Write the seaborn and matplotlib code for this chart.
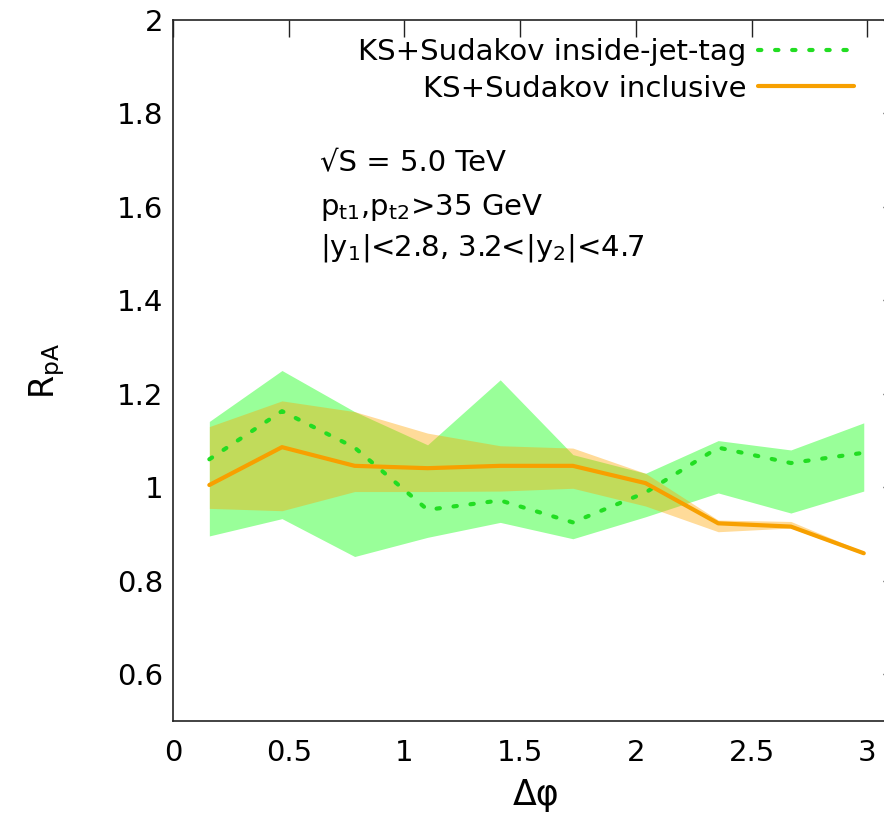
import numpy as np
import pandas as pd
import matplotlib
matplotlib.use("Agg")
import matplotlib.pyplot as plt
import seaborn as sns

# bin centres in delta phi (10 bins over [0, pi])
dphi = [0.157, 0.471, 0.785, 1.100, 1.414, 1.728, 2.042, 2.356, 2.670, 2.985]

# KS+Sudakov inside-jet-tag
tag_mid = [1.06, 1.163, 1.085, 0.952, 0.972, 0.925, 0.989, 1.085, 1.052, 1.074]
tag_lo = [0.896, 0.933, 0.852, 0.893, 0.925, 0.890, 0.937, 0.988, 0.945, 0.992]
tag_hi = [1.141, 1.250, 1.162, 1.091, 1.230, 1.070, 1.030, 1.100, 1.080, 1.138]

# KS+Sudakov inclusive
inc_mid = [1.005, 1.086, 1.046, 1.041, 1.046, 1.046, 1.009, 0.923, 0.916, 0.859]
inc_lo = [0.955, 0.950, 0.991, 0.991, 0.992, 0.998, 0.960, 0.905, 0.913, 0.856]
inc_hi = [1.130, 1.185, 1.162, 1.116, 1.089, 1.084, 1.030, 0.930, 0.927, 0.862]

labels = ["KS+Sudakov inside-jet-tag", "KS+Sudakov inclusive"]

df = pd.DataFrame({
    "dphi": dphi * 2,
    "R": tag_mid + inc_mid,
    "curve": [labels[0]] * len(dphi) + [labels[1]] * len(dphi),
})

sns.set_theme(style="white")
plt.rcParams["font.family"] = ["DejaVu Sans"]
plt.rcParams["mathtext.fontset"] = "dejavusans"
plt.rcParams["text.color"] = "black"
plt.rcParams["axes.labelcolor"] = "black"

green = "#22dd22"
orange = "#f7a000"

fig = plt.figure(figsize=(8.84, 8.26), dpi=100)
ax = fig.add_axes([0.1957, 0.1271, 0.8224, 0.8487])

ax.fill_between(dphi, tag_lo, tag_hi, color="#00ff00", alpha=0.4, lw=0)
ax.fill_between(dphi, inc_lo, inc_hi, color="#ffa500", alpha=0.4, lw=0)

sns.lineplot(data=df, x="dphi", y="R", hue="curve", style="curve",
             palette={labels[0]: green, labels[1]: orange},
             dashes={labels[0]: (0.8, 3.3), labels[1]: ""},
             linewidth=3, ax=ax, legend=False)
for line in ax.get_lines():
    line.set_dash_capstyle("round")
    line.set_solid_capstyle("round")

h1, = ax.plot([], [], color=green, lw=3, linestyle=(0, (0.8, 3.3)),
              dash_capstyle="round")
h2, = ax.plot([], [], color=orange, lw=3)
ax.legend([h1, h2], labels, loc="upper right", bbox_to_anchor=(0.973, 1.012),
          markerfirst=False, frameon=False, fontsize=21, handlelength=3.3,
          handletextpad=0.4, labelspacing=0.3, alignment="right")

ax.set_xlim(0, np.pi)
ax.set_ylim(0.5, 2.0)
ax.set_xticks([0, 0.5, 1, 1.5, 2, 2.5, 3])
ax.set_xticklabels(["0", "0.5", "1", "1.5", "2", "2.5", "3"])
ax.set_yticks([0.6, 0.8, 1.0, 1.2, 1.4, 1.6, 1.8, 2.0])
ax.set_yticklabels(["0.6", "0.8", "1", "1.2", "1.4", "1.6", "1.8", "2"])
ax.tick_params(direction="in", length=12, width=1, colors="#222222",
               labelsize=21, top=True, right=True)
ax.tick_params(axis="x", pad=13, labelcolor="black")
ax.tick_params(axis="y", pad=7, labelcolor="black")
for s in ax.spines.values():
    s.set_color("#222222")
    s.set_linewidth(1.2)

ax.set_xlabel("\u0394\u03c6", fontsize=25, labelpad=8)
ax.set_ylabel(r"R$_{\rm pA}$", fontsize=24, labelpad=36)

ax.text(0.202, 0.795, "\u221aS = 5.0 TeV", transform=ax.transAxes, fontsize=21,
        va="center")
ax.text(0.202, 0.733, r"p$_{\rm t1}$,p$_{\rm t2}$>35 GeV", transform=ax.transAxes,
        fontsize=21, va="center")
ax.text(0.202, 0.675, r"|y$_1$|<2.8, 3.2<|y$_2$|<4.7", transform=ax.transAxes,
        fontsize=21, va="center")

fig.savefig("out.png", dpi=100)
